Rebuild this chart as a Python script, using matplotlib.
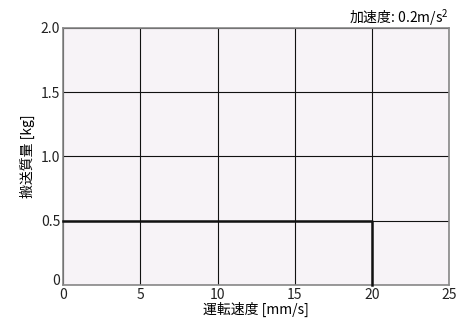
import matplotlib
matplotlib.use("Agg")
import matplotlib.pyplot as plt

speed = [0, 20, 20]
mass = [0.5, 0.5, 0]
xticks = [0, 5, 10, 15, 20, 25]
yticks = [0, 0.5, 1.0, 1.5, 2.0]
ytick_labels = ["0", "0.5", "1.0", "1.5", "2.0"]

plt.rcParams['font.family'] = ['Liberation Sans Narrow', 'Noto Sans CJK JP', 'DejaVu Sans']
plt.rcParams['mathtext.fontset'] = 'custom'
plt.rcParams['mathtext.rm'] = 'Noto Sans CJK JP'

fig = plt.figure(figsize=(4.57, 3.24), dpi=100)
ax = fig.add_axes([0.138, 0.120, 0.845, 0.794])
ax.set_facecolor('#f7f3f7')
ax.set_xlim(0, 25)
ax.set_ylim(0, 2.0)
ax.set_xticks(xticks)
ax.set_yticks(yticks)
ax.set_yticklabels(ytick_labels)
ax.tick_params(length=0, labelsize=10, colors='#222222', pad=2)
ax.get_yticklabels()[0].set_verticalalignment('baseline')
ax.grid(True, color='#111111', linewidth=0.8)
ax.set_axisbelow(True)
for s in ax.spines.values():
    s.set_color('#888888')
    s.set_linewidth(1.2)
ax.plot(speed, mass, color='#111111', linewidth=1.8, clip_on=False, zorder=3)
ax.set_xlabel('運転速度 [mm/s]', fontsize=10, labelpad=0)
ax.set_ylabel('搬送質量 [kg]', fontsize=10, labelpad=4)
ax.set_title('加速度: 0.2m/s$\\mathrm{^2}$', loc='right', fontsize=10, pad=3)
fig.savefig('out.png', dpi=100)
